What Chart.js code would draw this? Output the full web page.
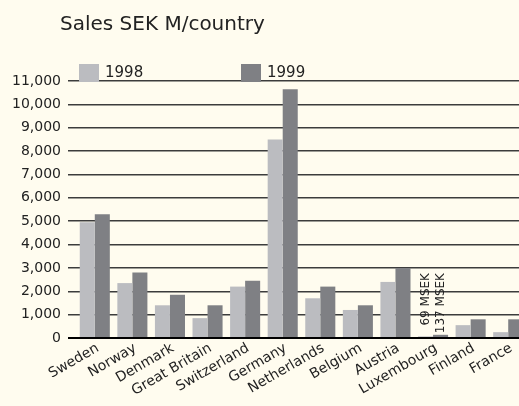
<!DOCTYPE html>
<html lang="en">
<head>
    <meta charset="UTF-8">
    <title>Sales SEK M/country</title>
    <script src="https://cdn.jsdelivr.net/npm/chart.js"></script>
    <style>
        body { margin: 0; background: #fffcef; overflow: hidden; }
        /* plot runs off the right edge in the original, so the canvas is a bit wider than the window */
        #wrap { width: 527px; height: 406px; }
    </style>
</head>
<body>
    <div id="wrap"><canvas id="salesChart"></canvas></div>
    <script>
        const countries = ['Sweden', 'Norway', 'Denmark', 'Great Britain', 'Switzerland', 'Germany',
            'Netherlands', 'Belgium', 'Austria', 'Luxembourg', 'Finland', 'France'];
        const sales1998 = [4950, 2350, 1400, 850, 2200, 8500, 1700, 1200, 2400, 69, 550, 250];
        const sales1999 = [5300, 2800, 1850, 1400, 2450, 10650, 2200, 1400, 3000, 137, 800, 800];
        const yearLabels = ['1998', '1999'];
        const smallNotes = ['69 MSEK', '137 MSEK'];   // Luxembourg, too small to see
        const noteIndex = 9;

        const fontFam = '"DejaVu Sans", sans-serif';
        const textCol = '#222';

        // title + legend drawn by hand, top-left like the print version
        const headerPlugin = {
            id: 'header',
            afterDraw(chart) {
                const ctx = chart.ctx;
                ctx.save();
                ctx.fillStyle = textCol;
                ctx.font = '20px ' + fontFam;
                ctx.textBaseline = 'middle';
                ctx.fillText('Sales SEK M/country', 60, 25);

                const boxX = [79, 241];
                chart.data.datasets.forEach((ds, i) => {
                    ctx.fillStyle = ds.backgroundColor;
                    ctx.fillRect(boxX[i], 64, 20, 18);
                    ctx.fillStyle = textCol;
                    ctx.font = '15px ' + fontFam;
                    ctx.fillText(ds.label, boxX[i] + 26, 73);
                });

                // notes for the Luxembourg bars
                const yTop = chart.scales.y.getPixelForValue(2780);
                ctx.font = '12px ' + fontFam;
                ctx.textAlign = 'right';
                smallNotes.forEach((txt, i) => {
                    const bar = chart.getDatasetMeta(i).data[noteIndex];
                    ctx.save();
                    ctx.translate(bar.x, yTop);
                    ctx.rotate(-Math.PI / 2);
                    ctx.fillText(txt, 0, 0);
                    ctx.restore();
                });
                ctx.restore();
            }
        };

        const bgPlugin = {
            id: 'bg',
            beforeDraw(chart) {
                const ctx = chart.ctx;
                ctx.save();
                ctx.fillStyle = '#fffcef';
                ctx.fillRect(0, 0, chart.width, chart.height);
                ctx.restore();
            }
        };

        const ctx = document.getElementById('salesChart').getContext('2d');
        new Chart(ctx, {
            type: 'bar',
            data: {
                labels: countries,
                datasets: [{
                    label: yearLabels[0],
                    data: sales1998,
                    backgroundColor: '#bbbcc0'
                }, {
                    label: yearLabels[1],
                    data: sales1999,
                    backgroundColor: '#7f8084'
                }]
            },
            options: {
                responsive: true,
                maintainAspectRatio: false,
                animation: false,
                layout: { padding: { top: 81, left: 0, right: 0, bottom: 0 } },
                plugins: {
                    legend: { display: false },
                    tooltip: { enabled: false }
                },
                datasets: {
                    bar: { categoryPercentage: 0.8, barPercentage: 1.0 }
                },
                scales: {
                    x: {
                        grid: { display: false, drawTicks: false },
                        border: { display: false },
                        ticks: {
                            color: textCol,
                            font: { family: fontFam, size: 14 },
                            autoSkip: false,
                            maxRotation: 30,
                            minRotation: 30,
                            padding: 2,
                            labelOffset: 3
                        },
                        afterFit(scale) { scale.height = 68; }
                    },
                    y: {
                        min: 0,
                        max: 11000,
                        border: { display: false },
                        grid: {
                            drawTicks: true,
                            tickLength: 8,
                            color: c => c.tick.value === 0 ? '#000' : '#3c3c3c',
                            lineWidth: c => c.tick.value === 0 ? 2 : 1.5
                        },
                        ticks: {
                            stepSize: 1000,
                            padding: 7,
                            color: textCol,
                            font: { family: fontFam, size: 14 },
                            callback: v => v.toLocaleString('en-US')
                        },
                        afterFit(scale) { scale.width = 76; }
                    }
                }
            },
            plugins: [bgPlugin, headerPlugin]
        });
    </script>
</body>
</html>
